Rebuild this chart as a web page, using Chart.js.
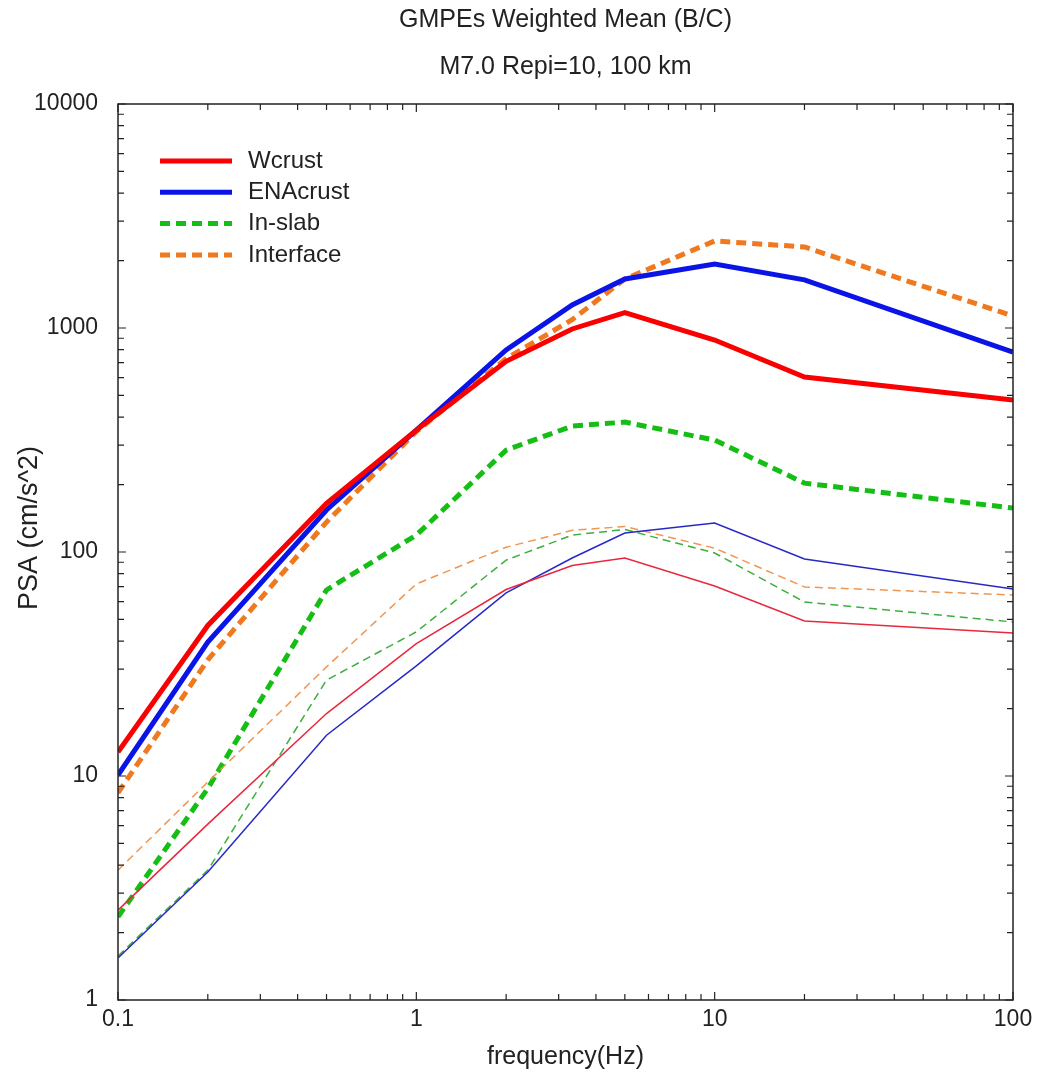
<!DOCTYPE html>
<html>
<head>
<meta charset="utf-8">
<script src="https://cdn.jsdelivr.net/npm/chart.js@4.4.1/dist/chart.umd.min.js"></script>
<style>
  body { margin: 0; background: #fff; }
  #wrap { width: 1041px; height: 1075px; }
</style>
</head>
<body>
<div id="wrap"><canvas id="psa"></canvas></div>
<script>
// spectral frequencies (Hz)
const freqs = [0.1, 0.2, 0.5, 1, 2, 3.33, 5, 10, 20, 100];

// Repi = 10 km (thick lines)
const wcrust10   = [12.8, 47, 165, 350, 710, 990, 1170, 884, 604, 477];
const enacrust10 = [10.1, 39.6, 154, 350, 798, 1267, 1655, 1930, 1640, 781];
const inslab10   = [2.35, 8.8, 67.7, 119, 285, 365, 380, 316, 203, 157];
const interf10   = [8.4, 33, 136, 345, 730, 1090, 1655, 2446, 2300, 1132];

// Repi = 100 km (thin lines)
const wcrust100   = [2.52, 6.1, 19, 39, 68, 87, 94, 70.5, 49.2, 43.5];
const enacrust100 = [1.54, 3.73, 15.2, 31, 65.7, 94, 121.6, 134.6, 93, 68.4];
const inslab100   = [1.57, 3.8, 26.8, 44, 92, 119, 126, 99, 59.8, 48.7];
const interf100   = [3.8, 9.4, 30.7, 72, 105, 125, 130, 104, 69.8, 64.3];

const xTicks = [0.1, 1, 10, 100];
const yTicks = [1, 10, 100, 1000, 10000];

const FONT = "'Liberation Sans', Arial, sans-serif";
const INK = '#222';

function series(label, values, color, width, dash, inLegend) {
  return {
    label,
    data: freqs.map((f, i) => ({ x: f, y: values[i] })),
    borderColor: color,
    borderWidth: width,
    borderDash: dash,
    pointRadius: 0,
    tension: 0,
    fill: false,
    inLegend
  };
}

// legend drawn inside the plot, top-left
const insideLegend = {
  id: 'insideLegend',
  afterDatasetsDraw(chart) {
    const { ctx, chartArea } = chart;
    const items = chart.data.datasets.filter(d => d.inLegend);
    ctx.save();
    ctx.font = '24px ' + FONT;
    ctx.textBaseline = 'middle';
    items.forEach((d, i) => {
      const y = chartArea.top + 57 + i * 31.3;
      const x0 = chartArea.left + 42;
      ctx.strokeStyle = d.borderColor;
      ctx.lineWidth = d.borderWidth;
      ctx.setLineDash(d.borderDash || []);
      ctx.beginPath();
      ctx.moveTo(x0, y);
      ctx.lineTo(x0 + 72, y);
      ctx.stroke();
      ctx.setLineDash([]);
      ctx.fillStyle = INK;
      ctx.fillText(d.label, x0 + 88, y);
    });
    ctx.restore();
  }
};

// y axis title, placed a bit above the axis centre
const yTitle = {
  id: 'yTitle',
  afterDraw(chart) {
    const { ctx } = chart;
    ctx.save();
    ctx.translate(30, 528);
    ctx.rotate(-Math.PI / 2);
    ctx.font = '27px ' + FONT;
    ctx.fillStyle = INK;
    ctx.textAlign = 'center';
    ctx.textBaseline = 'middle';
    ctx.fillText('PSA (cm/s^2)', 0, 0);
    ctx.restore();
  }
};

// box around the plot with inward log ticks on all four sides
const frame = {
  id: 'frame',
  afterDatasetsDraw(chart) {
    const { ctx, chartArea: a, scales: { x, y } } = chart;
    const marks = (lo, hi) => {
      const out = [];
      for (let d = lo; d < hi; d *= 10) {
        for (let k = 1; k < 10; k++) out.push({ v: k * d, major: k === 1 });
      }
      out.push({ v: hi, major: true });
      return out;
    };
    ctx.save();
    ctx.strokeStyle = INK;
    ctx.lineWidth = 1.5;
    ctx.strokeRect(a.left, a.top, a.width, a.height);
    ctx.lineWidth = 1.2;
    ctx.beginPath();
    marks(x.min, x.max).forEach(m => {
      const px = x.getPixelForValue(m.v);
      const len = m.major ? 8 : 6;
      ctx.moveTo(px, a.bottom); ctx.lineTo(px, a.bottom - len);
      ctx.moveTo(px, a.top); ctx.lineTo(px, a.top + len);
    });
    marks(y.min, y.max).forEach(m => {
      const py = y.getPixelForValue(m.v);
      const len = m.major ? 8 : 6;
      ctx.moveTo(a.left, py); ctx.lineTo(a.left + len, py);
      ctx.moveTo(a.right, py); ctx.lineTo(a.right - len, py);
    });
    ctx.stroke();
    ctx.restore();
  }
};

new Chart(document.getElementById('psa'), {
  type: 'line',
  data: {
    datasets: [
      series('Wcrust 100', wcrust100, 'rgb(232, 40, 60)', 1.5, [], false),
      series('ENAcrust 100', enacrust100, 'rgb(40, 40, 200)', 1.5, [], false),
      series('In-slab 100', inslab100, 'rgb(60, 175, 60)', 1.5, [8, 5], false),
      series('Interface 100', interf100, 'rgb(240, 150, 80)', 1.5, [8, 5], false),
      series('Wcrust', wcrust10, 'rgb(250, 0, 0)', 5, [], true),
      series('ENAcrust', enacrust10, 'rgb(10, 20, 230)', 5, [], true),
      series('In-slab', inslab10, 'rgb(20, 190, 20)', 5, [10, 6], true),
      series('Interface', interf10, 'rgb(240, 120, 30)', 5, [10, 6], true)
    ]
  },
  options: {
    responsive: true,
    maintainAspectRatio: false,
    animation: false,
    layout: { padding: { left: 10, right: 28, top: 0, bottom: 0 } },
    plugins: {
      legend: { display: false },
      tooltip: { enabled: false },
      title: {
        display: true,
        text: 'GMPEs Weighted Mean (B/C)',
        fullSize: false,
        color: INK,
        font: { family: FONT, size: 25, weight: 'normal' },
        padding: { top: 5, bottom: 0 }
      },
      subtitle: {
        display: true,
        text: 'M7.0 Repi=10, 100 km',
        fullSize: false,
        color: INK,
        font: { family: FONT, size: 25, weight: 'normal' },
        padding: { top: 17, bottom: 22 }
      }
    },
    scales: {
      x: {
        type: 'logarithmic',
        min: 0.1,
        max: 100,
        afterBuildTicks: s => { s.ticks = xTicks.map(v => ({ value: v })); },
        afterFit: s => { s.height = 75; },
        grid: { display: false, drawTicks: false },
        border: { display: false },
        ticks: {
          padding: 6,
          color: INK,
          autoSkip: false,
          maxRotation: 0,
          font: { family: FONT, size: 23 },
          callback: v => String(v)
        },
        title: {
          display: true,
          text: 'frequency(Hz)',
          color: INK,
          font: { family: FONT, size: 25 },
          padding: { top: 5, bottom: 3 }
        }
      },
      y: {
        type: 'logarithmic',
        min: 1,
        max: 10000,
        afterBuildTicks: s => { s.ticks = yTicks.map(v => ({ value: v })); },
        afterFit: s => { s.width = 108; },
        grid: { display: false, drawTicks: false },
        border: { display: false },
        ticks: {
          padding: 20,
          color: INK,
          autoSkip: false,
          font: { family: FONT, size: 23 },
          callback: v => String(v)
        },
        title: { display: false }
      }
    }
  },
  plugins: [insideLegend, frame, yTitle]
});
</script>
</body>
</html>
